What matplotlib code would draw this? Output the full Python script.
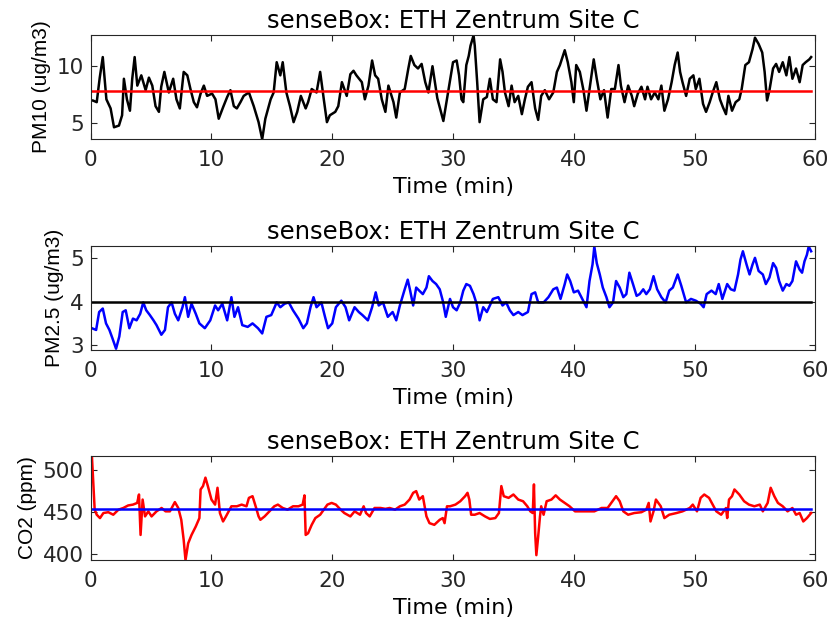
import matplotlib
matplotlib.use('Agg')
import matplotlib.pyplot as plt

# PM10 (ug/m3) - black trace
t_pm10 = [0.1, 0.17, 0.5, 0.75, 1.0, 1.3, 1.65, 1.93, 2.34, 2.6, 2.75, 3.0, 3.25, 3.44, 3.64, 3.86,
          4.19, 4.55, 4.82, 5.1, 5.37, 5.65, 5.84, 6.1, 6.47, 6.83, 7.1, 7.38, 7.7, 8.0, 8.26, 8.54,
          8.8, 9.1, 9.37, 9.64, 10.05, 10.33, 10.6, 10.96, 11.3, 11.57, 11.85, 12.1, 12.4, 12.67,
          13.1, 13.5, 13.9, 14.2, 14.46, 14.9, 15.15, 15.4, 15.7, 15.9, 16.2, 16.5, 16.8, 17.1,
          17.4, 17.8, 18.0, 18.3, 18.7, 19.0, 19.3, 19.56, 19.8, 20.25, 20.5, 20.8, 21.2, 21.5,
          21.76, 22.0, 22.45, 22.7, 23.0, 23.3, 23.55, 23.8, 24.1, 24.4, 24.65, 25.07, 25.3, 25.6,
          26.0, 26.3, 26.5, 26.8, 27.1, 27.4, 27.7, 27.96, 28.3, 28.7, 29.2,
          30.0, 30.3, 30.5, 30.7, 30.85, 31.1, 31.3, 31.45, 31.7, 31.8, 32.0, 32.2, 32.5, 32.8,
          33.05, 33.3, 33.6, 33.9, 34.1, 34.3, 34.6, 34.85, 35.1, 35.4, 35.7, 35.95, 36.2, 36.5,
          36.8, 37.05, 37.3, 37.6, 37.95, 38.3, 38.6, 38.85, 39.25, 39.5, 39.8, 40.0, 40.2, 40.5,
          40.8, 41.05, 41.3, 41.65, 41.9, 42.2, 42.5, 42.8, 43.1, 43.4, 43.7, 43.9, 44.2, 44.5,
          44.8, 45.0, 45.3, 45.6, 45.9, 46.1, 46.4, 46.7, 47.0, 47.25, 47.5, 47.8, 48.1, 48.35,
          48.6, 48.8, 49.0, 49.3, 49.6, 49.9, 50.1, 50.4, 50.7, 50.95, 51.25, 51.5, 51.8, 52.1,
          52.35, 52.6, 52.8, 53.1, 53.4, 53.7, 53.9, 54.2, 54.5, 54.8, 55.0, 55.3, 55.6, 55.8,
          56.0, 56.2, 56.5, 56.75, 57.0, 57.3, 57.6, 57.85, 58.1, 58.4, 58.7, 58.95, 59.2, 59.5,
          59.65]
pm10 = [7.0, 7.0, 6.85, 9.0, 10.8, 7.1, 6.3, 4.65, 4.8, 5.7, 8.9, 7.1, 6.1, 8.9, 10.8, 8.3,
        9.2, 7.9, 9.0, 8.3, 6.5, 6.0, 8.2, 9.5, 7.7, 8.9, 7.1, 6.3, 9.5, 9.2, 8.0, 6.85,
        6.4, 7.6, 8.3, 7.4, 7.6, 7.1, 5.4, 6.4, 7.3, 7.9, 6.5, 6.3, 6.85, 7.4,
        7.7, 6.5, 5.1, 3.6, 5.4, 7.1, 7.7, 10.35, 9.2, 10.35, 7.7, 6.5, 5.1, 6.0,
        7.4, 6.3, 6.85, 8.0, 7.7, 9.5, 7.1, 5.1, 5.7, 6.0, 6.5, 8.6, 7.4, 9.3,
        9.6, 9.2, 8.6, 7.1, 8.3, 10.5, 9.2, 8.9, 7.1, 6.0, 8.3, 6.85, 5.5, 7.7,
        8.0, 9.8, 10.9, 10.1, 9.8, 10.2, 8.6, 7.7, 10.0, 7.2, 5.2,
        10.35, 10.5, 9.2, 7.1, 6.85, 10.1, 10.9, 11.8, 12.7, 11.8, 8.6, 5.1, 7.1, 7.3,
        8.9, 7.1, 6.85, 10.6, 9.5, 7.7, 6.5, 8.3, 6.85, 7.4, 5.8, 7.1, 8.2, 8.6,
        6.3, 5.3, 7.4, 7.9, 7.1, 7.7, 9.5, 10.1, 11.4, 10.35, 8.6, 6.85, 10.1, 9.5,
        7.9, 6.1, 8.0, 10.6, 8.9, 7.1, 7.9, 5.5, 8.0, 8.0, 10.1, 8.3, 6.85, 8.3,
        7.4, 6.5, 7.6, 8.2, 7.1, 8.2, 7.1, 7.7, 7.1, 8.3, 6.1, 7.1, 8.6, 10.1,
        11.2, 9.5, 8.6, 7.4, 8.9, 9.2, 8.0, 8.9, 6.7, 6.0, 6.85, 7.7, 8.6, 7.1,
        6.4, 5.8, 7.4, 6.1, 6.85, 7.1, 8.0, 10.1, 10.35, 11.5, 12.5, 11.95, 11.2, 9.5,
        7.0, 7.9, 9.8, 10.2, 9.5, 10.35, 9.2, 10.8, 8.9, 9.8, 8.6, 10.1, 10.35, 10.6,
        10.8]
pm10_mean = 7.8

# PM2.5 (ug/m3) - blue trace
t_pm25 = [0.1, 0.45, 0.7, 1.0, 1.27, 1.55, 1.8, 2.1, 2.37, 2.65, 2.9, 3.2, 3.5, 3.8, 4.1, 4.35,
          4.6, 4.9, 5.2, 5.45, 5.85, 6.15, 6.4, 6.7, 6.97, 7.25, 7.6, 7.8, 8.07, 8.35, 8.7, 9.0,
          9.45, 9.9, 10.3, 10.55, 10.9, 11.3, 11.65, 11.9, 12.2, 12.55, 13.0, 13.4, 13.85, 14.2,
          14.55, 14.95, 15.4, 15.7, 16.06, 16.4, 16.75, 17.2, 17.6, 17.9, 18.2, 18.45, 18.7, 19.1,
          19.4, 19.65, 20.0, 20.3, 20.75, 21.1, 21.4, 21.85, 22.2, 22.5, 22.95, 23.3, 23.6, 23.85,
          24.2, 24.6, 25.0, 25.3, 25.6, 26.0, 26.25, 26.45, 26.7, 26.95, 27.2, 27.5, 27.8, 28.0,
          28.3, 28.6, 28.9, 29.15, 29.4, 29.75,
          30.0, 30.3, 30.6, 30.85, 31.1, 31.4, 31.7, 31.95, 32.2, 32.5, 32.8, 33.05, 33.3, 33.75,
          34.1, 34.4, 34.7, 35.0, 35.4, 35.75, 36.2, 36.5, 36.8, 37.05, 37.5, 37.9, 38.3, 38.6,
          38.9, 39.25, 39.45, 39.7, 40.0, 40.35, 40.7, 41.05, 41.3, 41.55, 41.7, 41.9, 42.15, 42.4,
          42.7, 42.95, 43.25, 43.5, 43.8, 44.1, 44.35, 44.6, 44.9, 45.2, 45.45, 45.75, 46.0, 46.3,
          46.6, 46.9, 47.25, 47.6, 47.9, 48.2, 48.6, 48.9, 49.3, 49.7, 50.1, 50.5, 50.75, 51.0,
          51.4, 51.75, 52.0, 52.3, 52.7, 53.0, 53.3, 53.6, 53.8, 54.0, 54.3, 54.55, 54.8, 55.0,
          55.3, 55.65, 55.9, 56.2, 56.5, 56.75, 57.0, 57.3, 57.6, 57.85, 58.1, 58.4, 58.7, 58.9,
          59.1, 59.3, 59.45, 59.65]
pm25 = [3.39, 3.35, 3.76, 3.84, 3.5, 3.35, 3.16, 2.92, 3.2, 3.76, 3.8, 3.39, 3.61, 3.57, 3.72, 3.98,
        3.8, 3.69, 3.57, 3.46, 3.24, 3.35, 3.87, 3.98, 3.72, 3.57, 3.87, 4.1, 3.65, 3.95, 3.72, 3.5,
        3.39, 3.57, 3.91, 3.8, 3.95, 3.57, 4.1, 3.65, 3.87, 3.46, 3.42, 3.5, 3.39, 3.27,
        3.65, 3.69, 3.98, 3.87, 3.95, 3.98, 3.8, 3.61, 3.39, 3.5, 3.87, 4.1, 3.87, 3.98,
        3.65, 3.39, 3.5, 3.87, 4.02, 3.87, 3.57, 3.87, 3.76, 3.69, 3.57, 3.87, 4.21, 3.91,
        3.98, 3.65, 3.76, 3.57, 3.91, 4.28, 4.5, 4.25, 3.91, 4.32, 4.25, 4.17, 4.32, 4.58,
        4.47, 4.4, 4.28, 4.02, 3.65, 4.06,
        3.87, 3.8, 3.98, 4.25, 4.4, 4.36, 4.17, 3.95, 3.57, 3.87, 3.76, 3.91, 4.06, 4.1,
        3.91, 3.98, 3.8, 3.69, 3.76, 3.69, 3.76, 4.17, 4.21, 3.98, 3.98, 4.1, 4.28, 4.32,
        4.06, 4.4, 4.62, 4.47, 4.21, 4.25, 4.06, 3.87, 4.47, 4.85, 5.26, 4.88, 4.62, 4.32,
        4.1, 3.87, 3.98, 4.47, 4.32, 4.1, 4.17, 4.66, 4.4, 4.13, 4.17, 4.28, 4.17, 4.28,
        4.58, 4.28, 4.1, 3.98, 4.25, 4.32, 4.62, 4.36, 3.98, 4.06, 4.02, 3.95, 3.87, 4.17,
        4.25, 4.17, 4.4, 4.06, 4.4, 4.28, 4.25, 4.62, 4.96, 5.15, 4.85, 4.62, 4.85, 5.0,
        4.7, 4.62, 4.4, 4.55, 4.88, 4.77, 4.47, 4.25, 4.4, 4.36, 4.47, 4.92, 4.73, 4.66,
        4.92, 5.07, 5.26, 5.15]
pm25_mean = 3.99

# CO2 (ppm) - red trace
t_co2 = [0.1, 0.33, 0.5, 0.77, 1.05, 1.46, 1.87, 2.3, 2.7, 3.1, 3.5, 3.85, 4.0, 4.13, 4.3, 4.5,
         4.77, 5.04, 5.45, 5.87, 6.2, 6.56, 6.97, 7.25, 7.5, 7.7, 7.85, 8.07, 8.35, 8.7, 9.0, 9.1,
         9.3, 9.5, 9.7, 10.0, 10.3, 10.5, 10.7, 10.96, 11.2, 11.65, 12.1, 12.5, 12.9, 13.1, 13.4,
         13.7, 13.9, 14.05, 14.4, 14.8, 15.2, 15.5, 15.9, 16.3, 16.75, 17.2, 17.55, 17.7, 17.8,
         18.0, 18.3, 18.6, 19.0, 19.3, 19.6, 19.95, 20.3, 20.7, 21.0, 21.5, 21.85, 22.3, 22.6,
         22.8, 23.1, 23.5, 24.0, 24.4, 24.75, 25.2, 25.6, 26.0, 26.4, 26.7, 26.95, 27.2, 27.5,
         27.8, 28.05, 28.45, 28.9, 29.15, 29.3, 29.5, 29.75,
         30.2, 30.6, 31.0, 31.2, 31.35, 31.5, 31.8, 32.2, 32.65, 33.05, 33.5, 33.8, 34.0, 34.2,
         34.6, 35.0, 35.4, 35.8, 36.15, 36.4, 36.6, 36.7, 36.8, 36.9, 37.05, 37.2, 37.3, 37.5,
         37.75, 38.15, 38.5, 38.85, 39.25, 39.65, 40.1, 40.6, 41.2, 41.7, 42.3, 42.8, 43.1, 43.5,
         43.8, 44.1, 44.5, 45.0, 45.6, 46.0, 46.2, 46.35, 46.6, 46.8, 47.2, 47.5, 47.9, 48.5,
         49.0, 49.6, 49.85, 50.2, 50.5, 50.8, 51.2, 51.5, 51.8, 52.2, 52.6, 52.7, 52.85, 53.1,
         53.3, 53.7, 54.1, 54.5, 54.95, 55.4, 55.65, 56.05, 56.3, 56.6, 56.9, 57.3, 57.7, 58.1,
         58.4, 58.7, 59.0, 59.3, 59.65]
co2 = [517, 453, 447, 443, 449, 450, 447, 453, 455, 458, 459, 461, 471, 423, 465, 445,
       451, 445, 451, 455, 451, 451, 462, 455, 441, 417, 393, 413, 423, 433, 443, 477,
       481, 491, 481, 465, 459, 479, 449, 439, 445, 457, 457, 459, 457, 467, 469,
       455, 445, 441, 445, 451, 457, 459, 455, 453, 457, 457, 459, 470, 423,
       425, 435, 443, 447, 453, 459, 461, 459, 453, 449, 445, 451, 447, 457,
       449, 445, 455, 455, 454, 455, 453, 457, 459, 465, 473, 475, 465, 469,
       445, 437, 435, 441, 443, 437, 457, 457,
       459, 463, 469, 473, 465, 447, 447, 449, 445, 442, 443, 449, 481, 469,
       467, 471, 465, 463, 457, 451, 449, 483, 425, 399, 421, 445, 457, 447,
       463, 465, 470, 465, 461, 457, 451, 451, 451, 451, 455, 455, 461, 469,
       463, 451, 447, 449, 450, 453, 461, 439, 451, 465, 457, 443, 447, 449,
       451, 455, 459, 451, 467, 471, 467, 459, 451, 447, 455, 443, 465, 469,
       477, 471, 463, 459, 457, 459, 451, 461, 479, 469, 461, 457, 451, 455,
       447, 449, 439, 443, 449]
co2_mean = 453.5

title_txt = 'senseBox: ETH Zentrum Site C'
xticks = [0, 10, 20, 30, 40, 50, 60]

# the reference looks horizontally stretched, so the horizontal texts use the
# wider DejaVu Sans and the rotated y labels the narrower Liberation Sans
ylab_font = {'family': ['Liberation Sans', 'DejaVu Sans'], 'size': 15}

plt.rcParams['font.family'] = ['DejaVu Sans']
plt.rcParams['font.size'] = 15.5

fig = plt.figure(figsize=(8.32, 6.33), dpi=100)

panels = [
    (t_pm10, pm10, pm10_mean, 'k', 'r', 'PM10 (ug/m3)', [5, 10], (3.6, 12.75), 0.780),
    (t_pm25, pm25, pm25_mean, '#0000ff', 'k', 'PM2.5 (ug/m3)', [3, 4, 5], (2.89, 5.28), 0.447),
    (t_co2, co2, co2_mean, '#ff0000', '#0000ff', 'CO2 (ppm)', [400, 450, 500], (393, 517), 0.115),
]

for t, y, m, col, mcol, lab, yt, yl, bot in panels:
    ax = fig.add_axes([0.109, bot, 0.871, 0.165])
    ax.plot(t, y, color=col, linewidth=1.8)
    ax.plot([t[0], t[-1]], [m, m], color=mcol, linewidth=1.8)
    ax.set_xlim(0, 60)
    ax.set_ylim(*yl)
    ax.set_xticks(xticks)
    ax.set_yticks(yt)
    ax.set_title(title_txt, fontsize=17.5, pad=5)
    ax.set_xlabel('Time (min)', fontsize=16)
    ax.xaxis.set_label_coords(0.5, -0.36)
    ax.set_ylabel(lab, fontdict=ylab_font, labelpad=4)
    ax.tick_params(direction='in', top=True, right=True, length=4, width=0.8,
                   color='#262626', labelcolor='#262626')
    ax.tick_params(axis='x', pad=8)
    ax.tick_params(axis='y', pad=5)
    for s in ax.spines.values():
        s.set_color('#262626')
        s.set_linewidth(0.8)

fig.savefig('out.png', dpi=100)
